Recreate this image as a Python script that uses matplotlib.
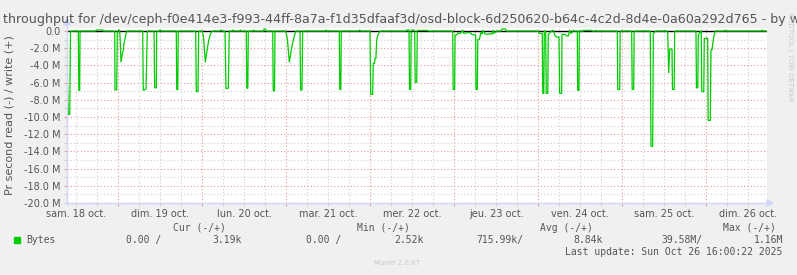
import matplotlib
matplotlib.use('Agg')
import matplotlib.pyplot as plt
from matplotlib.ticker import MultipleLocator, FuncFormatter
from matplotlib.lines import Line2D
from matplotlib.patches import Polygon

# ---------------- data ----------------
# time in hours since 2025-10-19 00:00 ; throughput in MB/s (read = negative, write = positive)
times_h = [
    -14.67, -14.29, -13.89, -13.67,
    -11.44, -11.30, -11.05, -10.95,
    -6.45, -6.35, -4.45, -4.35,
    -1.04, -0.95, -0.47, -0.29, 0.20, 0.35, 0.48, 0.76, 1.25, 1.42, 1.62, 1.99, 2.39,
    6.96, 7.13, 7.91, 8.28,
    10.19, 10.39, 10.85, 10.96,
    11.7, 11.8, 12.1, 12.2,
    16.56, 16.68, 16.96, 17.13,
    22.10, 22.28, 22.76, 22.96,
    23.95, 24.05, 24.33, 24.85, 25.28, 25.76, 26.25, 26.76,
    29.0, 29.13, 29.53, 29.65,
    30.48, 30.76, 31.42, 31.70,
    32.6, 32.7, 32.9, 33.0,
    34.7, 34.8, 35.0, 35.1,
    36.56, 36.70, 36.99, 37.13,
    38.5, 38.6, 38.8, 38.9,
    41.5, 41.6, 42.1, 42.2,
    44.10, 44.25, 44.62, 44.76,
    47.80, 47.90, 48.27, 48.85, 49.25, 49.70, 50.10, 50.47, 50.76,
    51.90, 52.07, 52.47, 52.67,
    59.1, 59.2, 59.4, 59.5,
    63.13, 63.27, 63.56, 63.70,
    68.7, 68.8, 69.1, 69.2,
    71.90, 72.10, 72.67, 72.84, 73.2, 73.33, 73.6, 73.8, 73.99, 74.27, 74.76,
    82.3, 82.39, 82.95, 83.05, 83.19, 83.53, 83.67, 84.55, 84.67, 84.82, 85.25, 85.42,
    85.5, 88.4, 88.5,
    95.53, 95.67, 96.10, 96.2, 96.76, 97.05, 97.62, 98.05, 98.33, 98.62, 99.33, 99.90,
    100.48, 101.04, 101.62, 102.10, 102.19, 102.56, 102.70, 103.13, 103.61, 103.9,
    104.27, 104.62, 105.62, 106.19, 106.76, 107.05, 107.33, 107.76, 108.05,
    109.4, 109.53, 110.67, 110.8,
    120.0, 120.13, 120.96, 121.13, 121.27, 121.56, 121.70, 122.10, 122.27, 122.70,
    122.84, 122.96, 123.53, 123.9, 124.28, 124.76, 125.33, 125.90, 126.10, 126.67,
    126.76, 127.62, 128.1, 128.56, 128.96, 129.24, 129.62, 130.0, 130.33,
    131.13, 131.25, 131.62, 131.70,
    132.8, 132.85, 135.24, 135.3,
    136.35, 136.45, 136.6, 136.7,
    142.56, 142.70, 143.24, 143.38,
    146.67, 146.82, 147.24, 147.39,
    151.98, 152.18, 152.67, 152.85, 153.33, 153.53,
    156.95, 157.24, 157.53, 158.19, 158.33, 158.82, 158.96,
    165.04, 165.18, 165.56, 165.70, 166.19, 166.33,
    166.55, 166.70, 167.27, 167.42, 168.38, 168.53, 169.13, 169.33, 169.62, 170.0, 170.27, 170.56,
    173.2, 173.3, 173.5, 173.6,
    183.7, 183.8, 184.0, 184.1,
    185.25,
]
bytes_M = [
    -3.9, -9.7, -9.7, 0.0,
    0.0, -6.9, -6.9, 0.0,
    0.0, 0.12, 0.12, 0.0,
    0.0, -6.85, -6.85, 0.0, 0.1, 0.1, -0.7, -3.6, -2.4, -2.3, -1.4, -0.7, 0.0,
    0.0, -6.9, -6.75, 0.0,
    0.0, -6.6, -6.6, 0.0,
    0.0, 0.1, 0.1, 0.0,
    0.0, -6.8, -6.8, 0.0,
    0.0, -7.05, -7.05, 0.0,
    0.0, -0.2, -0.7, -3.6, -2.5, -1.2, -0.4, 0.0,
    0.0, 0.1, 0.1, 0.0,
    0.0, -6.7, -6.65, 0.0,
    0.0, 0.1, 0.1, 0.0,
    0.0, 0.1, 0.1, 0.0,
    0.0, -6.65, -6.65, 0.0,
    0.0, 0.1, 0.1, 0.0,
    0.0, 0.23, 0.23, 0.0,
    0.0, -6.95, -6.95, 0.0,
    0.0, -0.15, -0.85, -3.6, -2.6, -1.6, -0.85, -0.3, 0.0,
    0.0, -6.86, -6.86, 0.0,
    0.0, 0.1, 0.1, 0.0,
    0.0, -6.8, -6.8, 0.0,
    0.0, 0.1, 0.1, 0.0,
    0.0, -7.36, -7.36, -3.76, -3.76, -3.2, -3.2, -1.1, -0.7, -0.35, 0.0,
    0.0, 0.12, 0.12, 0.12, -6.8, -6.8, 0.1, 0.1, 0.0, -5.97, -5.97, 0.0,
    0.08, 0.08, 0.0,
    0.0, -6.8, -6.8, -0.45, -0.45, -0.2, -0.3, -0.1, 0.1, -0.25, -0.25, -0.15,
    -0.2, -0.4, -0.45, -0.45, -6.8, -6.8, -1.0, -1.0, -0.15, -0.35,
    0.08, -0.3, -0.4, -0.3, -0.35, 0.08, -0.3, -0.1, 0.0,
    0.0, 0.23, 0.23, 0.0,
    0.0, -0.25, -0.3, -0.3, -7.25, -7.25, 0.0, 0.0, -7.25, -7.25,
    -0.38, -0.38, -0.1, 0.05, 0.05, -0.55, -0.7, -0.7, -7.25, -7.25,
    -0.38, -0.4, -0.58, -0.58, 0.1, -0.27, -0.2, 0.08, 0.0,
    0.0, -6.9, -6.9, 0.0,
    0.0, 0.08, 0.08, 0.0,
    0.0, 0.08, 0.08, 0.0,
    0.0, -6.8, -6.8, 0.0,
    0.0, -6.8, -6.8, 0.0,
    0.0, -13.4, -13.4, -0.27, -0.1, 0.0,
    0.0, -4.85, -2.1, -2.1, -6.8, -6.8, 0.0,
    0.0, -6.6, -6.6, -0.47, -0.15, 0.0,
    0.0, -7.05, -7.05, -0.85, -0.85, -10.4, -10.4, -2.2, -2.2, -1.0, -0.4, 0.0,
    0.0, 0.1, 0.1, 0.0,
    0.0, 0.1, 0.1, 0.0,
    0.0,
]

day_label_hours = [-12, 12, 36, 60, 84, 108, 132, 156, 180]
day_labels = ['sam. 18 oct.', 'dim. 19 oct.', 'lun. 20 oct.', 'mar. 21 oct.', 'mer. 22 oct.',
              'jeu. 23 oct.', 'ven. 24 oct.', 'sam. 25 oct.', 'dim. 26 oct.']

title = ('throughput for /dev/ceph-f0e414e3-f993-44ff-8a7a-f1d35dfaaf3d/'
         'osd-block-6d250620-b64c-4c2d-8d4e-0a60a292d765 - by week')
ylabel = 'Pr second read (-) / write (+)'
legend_headers = ['Cur (-/+)', 'Min (-/+)', 'Avg (-/+)', 'Max (-/+)']
series_name = 'Bytes'
legend_values = ['0.00 /', '3.19k', '0.00 /', '2.52k', '715.99k/', '8.84k', '39.58M/', '1.16M']
last_update = 'Last update: Sun Oct 26 16:00:22 2025'

# ---------------- figure ----------------
W, H = 797, 275
fig = plt.figure(figsize=(W / 100, H / 100), dpi=100, facecolor='#f0f0f0')

def fx(px):
    return px / W

def fy(py):
    return 1 - py / H

L, R, T, B = 67, 766.7, 28, 203
ax = fig.add_axes([fx(L), fy(B), fx(R) - fx(L), fy(T) - fy(B)])
ax.set_facecolor('white')
for s in ax.spines.values():
    s.set_visible(False)

xmin, xmax = -14.67, 185.25
ax.set_xlim(xmin, xmax)
ax.set_ylim(-20.0, 0.35)

TXT = '#555555'
MAJ = '#e49a9a'
MIN = '#cfcfcf'
GREEN = '#00cc00'

ax.xaxis.set_major_locator(MultipleLocator(24))
ax.xaxis.set_minor_locator(MultipleLocator(6))
ax.yaxis.set_major_locator(MultipleLocator(2))
ax.yaxis.set_minor_locator(MultipleLocator(1))

ax.grid(which='major', color=MAJ, linestyle=(0, (1, 2)), linewidth=0.8)
ax.grid(which='minor', color=MIN, linestyle=(0, (1, 2)), linewidth=0.8)
ax.set_axisbelow(True)

lab_map = dict(zip(day_label_hours, day_labels))
ax.xaxis.set_major_formatter(FuncFormatter(lambda v, p: ''))
ax.xaxis.set_minor_formatter(FuncFormatter(lambda v, p: lab_map.get(int(round(v)), '') if abs(v - round(v)) < 1e-6 else ''))

def yfmt(v, p):
    if abs(v) < 1e-9:
        return '0.0'
    return '%.1f M' % v
ax.yaxis.set_major_formatter(FuncFormatter(yfmt))

ax.tick_params(axis='x', which='major', color=MAJ, length=2.2, width=0.8, pad=2)
ax.tick_params(axis='x', which='minor', color=MIN, length=2.2, width=0.8, pad=2.3,
               labelsize=7, labelcolor=TXT)
ax.tick_params(axis='y', which='major', color=MAJ, length=2.2, width=0.8, pad=2.5,
               labelsize=7, labelcolor=TXT)
ax.tick_params(axis='y', which='minor', color=MIN, length=2.2, width=0.8)

# zero rule
ax.axhline(0, color='black', linewidth=1.0, zorder=3)

# data line
ax.plot(times_h, bytes_M, color=GREEN, linewidth=0.9, zorder=4, clip_on=True)

# axes lines + arrows (figure coords)
AX = '#cfd6f8'
fig.add_artist(Line2D([fx(L), fx(L)], [fy(B + 2), fy(24)], color=AX, lw=1.0))
fig.add_artist(Line2D([fx(L - 3), fx(768)], [fy(B), fy(B)], color=AX, lw=1.0))
fig.add_artist(Polygon([[fx(L - 3), fy(25)], [fx(L + 3), fy(25)], [fx(L), fy(19)]],
                       closed=True, color=AX, transform=fig.transFigure))
fig.add_artist(Polygon([[fx(767), fy(B - 3)], [fx(767), fy(B + 3)], [fx(773), fy(B)]],
                       closed=True, color=AX, transform=fig.transFigure))

# title & labels
fig.text(fx(3), fy(20), title, fontsize=9.1, color=TXT, ha='left', va='center')
fig.text(fx(10), fy(115.5), ylabel, fontsize=8, color=TXT, rotation=90, ha='center', va='center')

# legend
MONO = 'DejaVu Sans Mono'
hdr_x = [173.3, 357, 540, 722.7]
for x, s in zip(hdr_x, legend_headers):
    fig.text(fx(x), fy(227.7), s, family=MONO, fontsize=7, color=TXT, ha='left', va='center')

fig.patches.append(plt.Rectangle((fx(14), fy(243)), fx(6), 6 / H, color=GREEN,
                                 transform=fig.transFigure, figure=fig))
fig.text(fx(26.3), fy(240), series_name, family=MONO, fontsize=7, color=TXT, ha='left', va='center')

val_pos = [(126, 'left'), (242, 'right'), (306, 'left'), (423.3, 'right'),
           (476, 'left'), (603, 'right'), (661.7, 'left'), (783.3, 'right')]
for (x, ha), s in zip(val_pos, legend_values):
    fig.text(fx(x), fy(240), s, family=MONO, fontsize=7, color=TXT, ha=ha, va='center')

fig.text(fx(782.7), fy(251.7), last_update, family=MONO, fontsize=7, color=TXT, ha='right', va='center')
fig.text(fx(397.5), fy(263.3), 'Munin 2.0.67', fontsize=5, color='#c8c8c8', ha='center', va='center')
fig.text(fx(790), fy(57), 'RRDTOOL / TOBI OETIKER', fontsize=5, color='#c8c8c8',
         rotation=270, ha='center', va='center')

fig.savefig('out.png', dpi=100, facecolor=fig.get_facecolor())
